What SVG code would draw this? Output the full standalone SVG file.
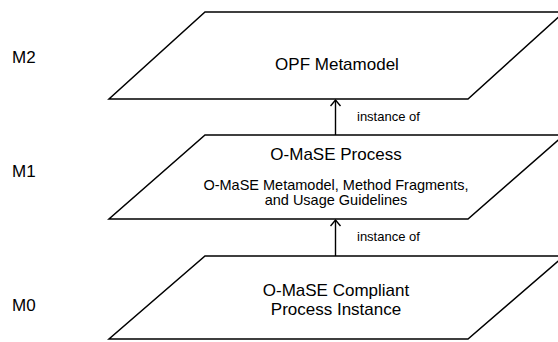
<svg xmlns="http://www.w3.org/2000/svg" width="558" height="342" viewBox="0 0 558 342">
  <defs>
    <style>
      text { font-family: "Liberation Sans", Arial, sans-serif; fill: #000; }
      .plane { fill: #fff; stroke: #000; stroke-width: 1.5; }
      .conn { stroke: #000; stroke-width: 1.4; fill: none; }
      .head { stroke: #000; stroke-width: 1.4; fill: none; }
      .title { font-size: 17px; text-anchor: middle; }
      .sub { font-size: 14.5px; text-anchor: middle; }
      .lbl { font-size: 13px; }
      .level { font-size: 17px; }
    </style>
    <!-- open V arrowhead, drawn pointing along +x -->
    <marker id="openArrow" viewBox="0 0 8 12" refX="7" refY="6" markerWidth="8" markerHeight="12" markerUnits="userSpaceOnUse" orient="auto">
      <path d="M1,1 L7,6 L1,11" class="head"/>
    </marker>
  </defs>

  <rect width="558" height="342" fill="#fff"/>

  <!-- level labels -->
  <g id="levels">
    <text class="level" x="12" y="63">M2</text>
    <text class="level" x="12" y="177">M1</text>
    <text class="level" x="12" y="311">M0</text>
  </g>

  <!-- M2 plane -->
  <g id="opf-metamodel">
    <polygon class="plane" points="205,12 564,12 468,99 109,99"/>
    <text class="title" x="337" y="70">OPF Metamodel</text>
  </g>

  <!-- M1 plane -->
  <g id="omase-process">
    <polygon class="plane" points="205,135 564,135 468,219 109,219"/>
    <text class="title" x="336" y="160">O-MaSE Process</text>
    <text class="sub" x="336" y="190">O-MaSE Metamodel, Method Fragments,</text>
    <text class="sub" x="336" y="205">and Usage Guidelines</text>
  </g>

  <!-- M0 plane -->
  <g id="omase-instance">
    <polygon class="plane" points="205,256 564,256 468,339 109,339"/>
    <text class="title" x="336" y="296">O-MaSE Compliant</text>
    <text class="title" x="336" y="315">Process Instance</text>
  </g>

  <!-- instance-of connectors -->
  <g id="connectors">
    <line class="conn" x1="335.5" y1="135" x2="335.5" y2="100" marker-end="url(#openArrow)"/>
    <text class="lbl" x="357" y="121">instance of</text>
    <line class="conn" x1="335.5" y1="256" x2="335.5" y2="220" marker-end="url(#openArrow)"/>
    <text class="lbl" x="357" y="241">instance of</text>
  </g>
</svg>
